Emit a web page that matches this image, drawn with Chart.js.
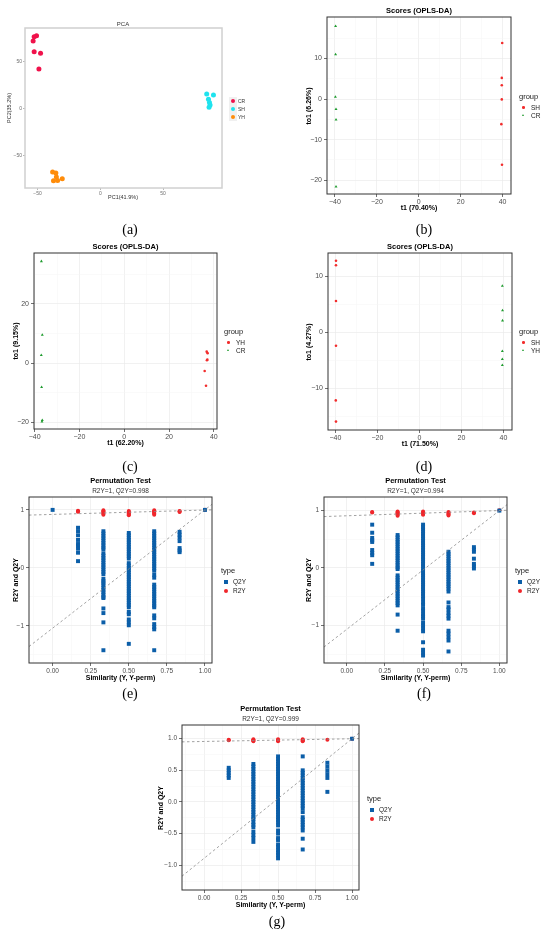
<!DOCTYPE html>
<html>
<head>
<meta charset="utf-8">
<script src="https://cdn.jsdelivr.net/npm/chart.js@4.4.1/dist/chart.umd.min.js"></script>
<style>
html, body { margin: 0; padding: 0; background: #fff; }
body { position: relative; width: 550px; height: 935px; overflow: hidden; }
canvas { position: absolute; }
</style>
</head>
<body>
<script>
// ---- data: (a) PCA scores ----
const pcaCR_x = [-53.5, -52.7, -50.8, -52.7, -47.6, -48.9];
const pcaCR_y = [71.6, 76.2, 77.3, 60.3, 58.5, 41.8];
const pcaSH_x = [84.8, 90.2, 86.2, 87.0, 87.5, 86.7];
const pcaSH_y = [15.2, 14.2, 9.6, 6.0, 3.5, 1.1];
const pcaYH_x = [-38.0, -35.4, -37.3, -34.0, -35.0, -30.3];
const pcaYH_y = [-68.0, -69.0, -77.3, -77.0, -73.4, -75.2];

// ---- data: (b) OPLS-DA SH vs CR ----
const bSH_t1 = [39.8, 39.6, 39.6, 39.6, 39.4, 39.7];
const bSH_to1 = [13.8, 5.2, 3.4, -0.1, -6.2, -16.2];
const bCR_t1 = [-39.7, -39.7, -39.8, -39.5, -39.5, -39.5];
const bCR_to1 = [17.95, 11.0, 0.5, -2.5, -5.1, -21.6];

// ---- data: (c) OPLS-DA YH vs CR ----
const cYH_t1 = [36.8, 37.2, 37.1, 36.9, 35.9, 36.5];
const cYH_to1 = [3.9, 3.4, 1.2, 1.0, -2.6, -7.6];
const cCR_t1 = [-37.0, -36.6, -37.05, -36.9, -36.6, -36.75];
const cCR_to1 = [34.4, 9.55, 2.7, -8.1, -19.2, -19.7];

// ---- data: (d) OPLS-DA SH vs YH ----
const dSH_t1 = [-39.7, -39.7, -39.7, -39.7, -39.8, -39.7];
const dSH_to1 = [12.8, 12.0, 5.6, -2.4, -12.2, -16.0];
const dYH_t1 = [39.5, 39.6, 39.6, 39.5, 39.5, 39.5];
const dYH_to1 = [8.3, 3.9, 2.1, -3.4, -4.8, -5.9];

// ---- data: permutation tests, one list per similarity level ----
const simLevels = [0, 0.1667, 0.3333, 0.5, 0.6667, 0.8333, 1];

const eQ2Y = [
  [0.998],
  [0.69, 0.63, 0.56, 0.48, 0.41, 0.38, 0.33, 0.26, 0.115],
  [0.63, 0.59, 0.55, 0.51, 0.47, 0.43, 0.39, 0.35, 0.32, 0.25, 0.21, 0.17, 0.13, 0.09, 0.05, 0.01, -0.03, -0.07, -0.11,
   -0.19, -0.23, -0.26, -0.30, -0.34, -0.38, -0.42, -0.46, -0.50, -0.52, -0.70, -0.78, -0.94, -1.42],
  [0.60, 0.56, 0.52, 0.48, 0.44, 0.40, 0.36, 0.32, 0.28, 0.24, 0.20, 0.16, 0.08, 0.04, 0.00, -0.04, -0.08, -0.12, -0.16,
   -0.20, -0.24, -0.28, -0.32, -0.36, -0.40, -0.44, -0.48, -0.52, -0.56, -0.60, -0.64, -0.68, -0.76, -0.80, -0.89, -0.94, -0.99, -1.31],
  [0.63, 0.59, 0.55, 0.51, 0.47, 0.43, 0.39, 0.35, 0.31, 0.27, 0.23, 0.19, 0.15, 0.11, 0.07, 0.03, -0.01, -0.05, -0.12, -0.17,
   -0.29, -0.33, -0.37, -0.41, -0.45, -0.49, -0.53, -0.57, -0.61, -0.65, -0.68, -0.82, -0.87, -0.97, -1.02, -1.06, -1.42],
  [0.62, 0.57, 0.52, 0.46, 0.34, 0.30, 0.27],
  [0.998]
];
const eR2Y = [
  [],
  [0.985, 0.975, 0.965],
  [0.99, 0.975, 0.96, 0.945, 0.93, 0.915],
  [0.98, 0.965, 0.95, 0.935, 0.92, 0.905],
  [0.99, 0.975, 0.96, 0.945, 0.93, 0.915],
  [0.98, 0.97, 0.96],
  [1]
];
const eR2YFit = [0.92, 0.075];   // intercept, slope
const eQ2YFit = [-1.04, 2.04];

const fQ2Y = [
  [],
  [0.75, 0.61, 0.52, 0.48, 0.45, 0.31, 0.26, 0.22, 0.07],
  [0.57, 0.53, 0.49, 0.45, 0.41, 0.37, 0.33, 0.29, 0.25, 0.21, 0.17, 0.13, 0.09, 0.05, 0.01, -0.02,
   -0.13, -0.17, -0.21, -0.25, -0.29, -0.33, -0.37, -0.41, -0.45, -0.49, -0.53, -0.57, -0.61, -0.65, -0.81, -1.09],
  [0.75, 0.71, 0.67, 0.63, 0.59, 0.55, 0.51, 0.47, 0.43, 0.39, 0.35, 0.31, 0.27, 0.23, 0.19, 0.15, 0.11, 0.07, 0.03,
   -0.01, -0.05, -0.09, -0.13, -0.17, -0.21, -0.25, -0.29, -0.33, -0.37, -0.41, -0.45, -0.49, -0.54, -0.60, -0.64,
   -0.70, -0.74, -0.80, -0.84, -0.88, -0.95, -1.00, -1.05, -1.10, -1.29, -1.42, -1.47, -1.52],
  [0.28, 0.24, 0.20, 0.16, 0.12, 0.08, 0.04, 0.00, -0.04, -0.08, -0.12, -0.16, -0.20, -0.24, -0.28, -0.32, -0.36,
   -0.41, -0.60, -0.68, -0.72, -0.78, -0.83, -0.88, -1.09, -1.14, -1.20, -1.26, -1.45],
  [0.36, 0.32, 0.28, 0.16, 0.07, 0.03, -0.01],
  [0.994]
];
const fR2Y = [
  [],
  [0.97, 0.96],
  [0.98, 0.965, 0.95, 0.935, 0.92, 0.905],
  [0.98, 0.965, 0.95, 0.935, 0.92],
  [0.97, 0.955, 0.94, 0.925, 0.91],
  [0.96, 0.95],
  [1]
];
const fR2YFit = [0.904, 0.091];
const fQ2YFit = [-1.066, 2.06];

const gQ2Y = [
  [],
  [0.54, 0.50, 0.46, 0.42, 0.38],
  [0.60, 0.56, 0.52, 0.48, 0.44, 0.40, 0.36, 0.32, 0.28, 0.24, 0.20, 0.16, 0.12, 0.08, 0.04, 0.00, -0.04, -0.08,
   -0.12, -0.16, -0.20, -0.24, -0.27, -0.32, -0.36, -0.40, -0.47, -0.52, -0.57, -0.63],
  [0.72, 0.68, 0.64, 0.60, 0.56, 0.52, 0.48, 0.44, 0.40, 0.36, 0.32, 0.28, 0.24, 0.20, 0.16, 0.12, 0.08, 0.04, 0.00,
   -0.04, -0.08, -0.12, -0.16, -0.20, -0.24, -0.28, -0.32, -0.37, -0.45, -0.50, -0.57, -0.60, -0.67, -0.71, -0.76,
   -0.80, -0.84, -0.89],
  [0.72, 0.50, 0.46, 0.42, 0.38, 0.34, 0.30, 0.26, 0.22, 0.18, 0.14, 0.10, 0.06, 0.02, -0.02, -0.06, -0.10, -0.16,
   -0.24, -0.28, -0.32, -0.36, -0.40, -0.45, -0.58, -0.75],
  [0.62, 0.56, 0.50, 0.44, 0.38, 0.16],
  [0.999]
];
const gR2Y = [
  [],
  [0.985, 0.975],
  [0.99, 0.98, 0.97, 0.96],
  [0.99, 0.98, 0.97, 0.96],
  [0.99, 0.98, 0.97, 0.96],
  [0.985],
  [1]
];
const gR2YFit = [0.956, 0.043];
const gQ2YFit = [-0.89, 1.89];

// ---- tick values ----
const pcaTicks = [-50, 0, 50];
const t1Ticks = [-40, -20, 0, 20, 40];
const t1Minor = [-30, -10, 10, 30];
const bTo1Ticks = [-20, -10, 0, 10];
const bTo1Minor = [-15, -5, 5, 15];
const cTo1Ticks = [-20, 0, 20];
const cTo1Minor = [-10, 10, 30];
const dTo1Ticks = [-10, 0, 10];
const dTo1Minor = [-15, -5, 5];
const simTicks = [0, 0.25, 0.5, 0.75, 1];
const simMinor = [-0.125, 0.125, 0.375, 0.625, 0.875];
const permTicks = [-1, 0, 1];
const permMinor = [-1.5, -0.5, 0.5];
const gPermTicks = [-1, -0.5, 0, 0.5, 1];
const gPermMinor = [-1.25, -0.75, -0.25, 0.25, 0.75];

// ---- helpers ----
const FONT = '"Liberation Sans", Arial, Helvetica, sans-serif';
const YW = 30, XH = 16, PAD = 8;

const minus = v => String(v).replace('-', '\u2212');
const dec2 = v => v.toFixed(2);
const dec1 = v => v.toFixed(1).replace('-', '\u2212');

const pts = (xs, ys) => xs.map((x, i) => ({ x, y: ys[i] }));
const cols = arr => arr.flatMap((vals, i) => vals.map(y => ({ x: simLevels[i], y })));
const fitLine = (fit, xr) => xr.map(x => ({ x, y: fit[0] + fit[1] * x }));

// panel border drawn over the data
const framePlugin = {
  id: 'frame',
  afterDatasetsDraw(chart, args, opts) {
    const { ctx, chartArea: a } = chart;
    ctx.save();
    ctx.strokeStyle = opts.color;
    ctx.lineWidth = opts.width;
    ctx.strokeRect(a.left, a.top, a.right - a.left, a.bottom - a.top);
    ctx.restore();
  }
};

function axis(dir, range, major, minor, fmt, st) {
  return {
    type: 'linear',
    min: range[0],
    max: range[1],
    afterBuildTicks: s => {
      s.ticks = major.map(v => ({ value: v }))
        .concat(minor.map(v => ({ value: v, minor: true })))
        .sort((a, b) => a.value - b.value);
    },
    afterFit: s => {
      if (dir === 'x') s.height = XH; else s.width = YW;
    },
    ticks: {
      autoSkip: false, maxRotation: 0, minRotation: 0,
      padding: dir === 'x' ? st.padX : st.padY,
      color: st.tickText,
      font: { family: FONT, size: st.tickSize },
      callback: (v, i, t) => t[i].minor ? '' : fmt(v)
    },
    grid: {
      drawTicks: true,
      tickLength: st.tickLen,
      color: c => !st.grid ? 'rgba(0,0,0,0)' : (c.tick && c.tick.minor ? '#F4F4F4' : '#EBEBEB'),
      lineWidth: c => c.tick && c.tick.minor ? 0.5 : 0.7,
      tickColor: c => c.tick && c.tick.minor ? 'rgba(0,0,0,0)' : st.tickMark,
      tickWidth: 0.7
    },
    border: { display: false }
  };
}

function makeChart(p) {
  const W = YW + (p.R - p.L) + PAD, H = PAD + (p.B - p.T) + XH;
  const cv = document.createElement('canvas');
  cv.width = W;
  cv.height = H;
  cv.style.left = (p.L - YW) + 'px';
  cv.style.top = (p.T - PAD) + 'px';
  cv.style.width = W + 'px';
  cv.style.height = H + 'px';
  document.body.appendChild(cv);
  return new Chart(cv, {
    type: 'scatter',
    data: { datasets: p.datasets },
    options: {
      responsive: false,
      animation: false,
      events: [],
      layout: { padding: { top: PAD, right: PAD, left: 0, bottom: 0 } },
      plugins: {
        legend: { display: false },
        tooltip: { enabled: false },
        frame: { color: p.style.frame, width: p.style.frameW }
      },
      scales: {
        x: axis('x', p.xr, p.xt, p.xm, p.xf, p.style),
        y: axis('y', p.yr, p.yt, p.ym, p.yf, p.style)
      }
    },
    plugins: [framePlugin]
  });
}

function dots(data, color, style, r) {
  return {
    data, pointStyle: style, pointRadius: r,
    pointBackgroundColor: color, backgroundColor: color,
    pointBorderWidth: 0, borderWidth: 0
  };
}
function dashed(data) {
  return {
    data, showLine: true, pointRadius: 0,
    borderColor: '#8A8A8A', borderWidth: 0.8, borderDash: [2.5, 2.5]
  };
}

function text(str, x, y, o = {}) {
  const d = document.createElement('div');
  d.textContent = str;
  const tx = o.left ? '0' : '-50%';
  d.style.cssText = 'position:absolute;white-space:nowrap;line-height:1;' +
    `left:${x}px;top:${y}px;font-size:${o.size || 7}px;` +
    `font-weight:${o.bold ? 'bold' : 'normal'};color:${o.color || '#000'};` +
    `font-family:${o.family || FONT};` +
    `transform:translate(${tx},-50%)${o.rot ? ' rotate(-90deg)' : ''};`;
  document.body.appendChild(d);
}

function mark(kind, x, y, color, s) {
  const d = document.createElement('div');
  let css = `position:absolute;left:${x - s / 2}px;top:${y - s / 2}px;`;
  if (kind === 'tri') {
    css += `width:0;height:0;border-left:${s / 2}px solid transparent;border-right:${s / 2}px solid transparent;` +
      `border-bottom:${s * 0.87}px solid ${color};`;
  } else {
    css += `width:${s}px;height:${s}px;background:${color};` + (kind === 'circle' ? 'border-radius:50%;' : '');
  }
  d.style.cssText = css;
  document.body.appendChild(d);
}

const panelLabel = (str, x, y) => text(str, x, y, { size: 14, family: '"Liberation Serif", "Times New Roman", serif' });

const styleOld = { grid: false, frame: '#D0D0D0', frameW: 1.5, tickText: '#6E6E6E', tickMark: '#9A9A9A', tickSize: 5, tickLen: 2, padX: 1, padY: 1 };
const styleBW = { grid: true, frame: '#333333', frameW: 1, tickText: '#4D4D4D', tickMark: '#333333', tickSize: 7, tickLen: 3, padX: 1, padY: 2 };
const stylePerm = Object.assign({}, styleBW, { tickSize: 6.5 });

// ---- colours ----
const colCR = '#F0124B', colSH = '#1FE3EE', colYH = '#FF8C0A';
const oplsRed = '#F22D2D', oplsGreen = '#1E9B2E';
const permBlue = '#0B5EA8', permRed = '#F0262B';

// ---- (a) PCA ----
makeChart({
  L: 25, T: 28, R: 222, B: 188, style: styleOld,
  xr: [-60, 97], xt: pcaTicks, xm: [], xf: minus,
  yr: [-85, 85.5], yt: pcaTicks, ym: [], yf: minus,
  datasets: [
    dots(pts(pcaYH_x, pcaYH_y), colYH, 'circle', 2.5),
    dots(pts(pcaSH_x, pcaSH_y), colSH, 'circle', 2.5),
    dots(pts(pcaCR_x, pcaCR_y), colCR, 'circle', 2.5)
  ]
});
text('PCA', 123, 24, { size: 6, color: '#333' });
text('PC1(41.9%)', 123, 197.5, { size: 5.5, color: '#333' });
text('PC2(35.2%)', 10, 108, { size: 5.5, color: '#333', rot: true });
[['CR', colCR, 101], ['SH', colSH, 109], ['YH', colYH, 117]].forEach(([n, c, y]) => {
  mark('square', 233, y, '#F0F0F0', 7.5);
  mark('circle', 233, y, c, 4.6);
  text(n, 238, y, { size: 5, color: '#333', left: true });
});
panelLabel('(a)', 130, 230);

// ---- OPLS-DA panels ----
function oplsPanel(p, title, xTitle, yTitle, yTitleX, legend) {
  makeChart(p);
  const cx = (p.L + p.R) / 2, cy = (p.T + p.B) / 2;
  text(title, cx, p.T - 6, { size: 7.5, bold: true });
  text(xTitle, cx, p.B + 13, { size: 7, bold: true });
  text(yTitle, yTitleX, cy, { size: 7, bold: true, rot: true });
  text('group', legend.x, legend.y, { size: 7.5, left: true, color: '#1A1A1A' });
  legend.items.forEach(([n, c, kind], i) => {
    const y = legend.y + 10.5 + i * 8.5;
    mark(kind, legend.x + 4.5, y, c, kind === 'tri' ? 3.2 : 2.6);
    text(n, legend.x + 12, y, { size: 6.5, left: true, color: '#1A1A1A' });
  });
}

oplsPanel({
  L: 327, T: 17, R: 511, B: 194, style: styleBW,
  xr: [-43.8, 44.0], xt: t1Ticks, xm: t1Minor, xf: minus,
  yr: [-23.4, 20.2], yt: bTo1Ticks, ym: bTo1Minor, yf: minus,
  datasets: [
    dots(pts(bSH_t1, bSH_to1), oplsRed, 'circle', 1.3),
    dots(pts(bCR_t1, bCR_to1), oplsGreen, 'triangle', 1.7)
  ]
}, 'Scores (OPLS-DA)', 't1 (70.40%)', 'to1 (6.26%)', 308,
  { x: 519, y: 97, items: [['SH', oplsRed, 'circle'], ['CR', oplsGreen, 'tri']] });
panelLabel('(b)', 424, 230);

oplsPanel({
  L: 34, T: 253, R: 217, B: 429, style: styleBW,
  xr: [-40.3, 41.4], xt: t1Ticks, xm: t1Minor, xf: minus,
  yr: [-22.2, 37.2], yt: cTo1Ticks, ym: cTo1Minor, yf: minus,
  datasets: [
    dots(pts(cYH_t1, cYH_to1), oplsRed, 'circle', 1.3),
    dots(pts(cCR_t1, cCR_to1), oplsGreen, 'triangle', 1.7)
  ]
}, 'Scores (OPLS-DA)', 't1 (62.20%)', 'to1 (9.15%)', 15,
  { x: 224, y: 332, items: [['YH', oplsRed, 'circle'], ['CR', oplsGreen, 'tri']] });
panelLabel('(c)', 130, 467);

oplsPanel({
  L: 328, T: 253, R: 512, B: 430, style: styleBW,
  xr: [-43.5, 44.1], xt: t1Ticks, xm: t1Minor, xf: minus,
  yr: [-17.5, 14.2], yt: dTo1Ticks, ym: dTo1Minor, yf: minus,
  datasets: [
    dots(pts(dSH_t1, dSH_to1), oplsRed, 'circle', 1.3),
    dots(pts(dYH_t1, dYH_to1), oplsGreen, 'triangle', 1.7)
  ]
}, 'Scores (OPLS-DA)', 't1 (71.50%)', 'to1 (4.27%)', 308,
  { x: 519, y: 332, items: [['SH', oplsRed, 'circle'], ['YH', oplsGreen, 'tri']] });
panelLabel('(d)', 424, 467);

// ---- permutation test panels ----
function permPanel(p, q2, r2, q2Fit, r2Fit, sub, yTitleX, legendX) {
  p.datasets = [
    dashed(fitLine(q2Fit, p.xr)),
    dashed(fitLine(r2Fit, p.xr)),
    dots(cols(q2), permBlue, 'rect', 2.8),
    dots(cols(r2), permRed, 'circle', 2)
  ];
  makeChart(p);
  const cx = (p.L + p.R) / 2, cy = (p.T + p.B) / 2;
  text('Permutation Test', cx, p.T - 16, { size: 7.5, bold: true });
  text(sub, cx, p.T - 6.5, { size: 6.5, color: '#333' });
  text('Similarity (Y, Y-perm)', cx, p.B + 14, { size: 7, bold: true });
  text('R2Y and Q2Y', yTitleX, cy, { size: 7, bold: true, rot: true });
  const ly = p.T + 74;
  text('type', legendX, ly, { size: 7.5, left: true, color: '#1A1A1A' });
  mark('square', legendX + 4.5, ly + 11, permBlue, 4);
  text('Q2Y', legendX + 12, ly + 11, { size: 6.5, left: true, color: '#1A1A1A' });
  mark('circle', legendX + 4.5, ly + 19.5, permRed, 4);
  text('R2Y', legendX + 12, ly + 19.5, { size: 6.5, left: true, color: '#1A1A1A' });
}

permPanel({
  L: 29, T: 497, R: 212, B: 663, style: stylePerm,
  xr: [-0.155, 1.046], xt: simTicks, xm: simMinor, xf: dec2,
  yr: [-1.64, 1.22], yt: permTicks, ym: permMinor, yf: minus
}, eQ2Y, eR2Y, eQ2YFit, eR2YFit, 'R2Y=1, Q2Y=0.998', 15, 221);
panelLabel('(e)', 130, 694);

permPanel({
  L: 324, T: 497, R: 507, B: 663, style: stylePerm,
  xr: [-0.149, 1.05], xt: simTicks, xm: simMinor, xf: dec2,
  yr: [-1.65, 1.23], yt: permTicks, ym: permMinor, yf: minus
}, fQ2Y, fR2Y, fQ2YFit, fR2YFit, 'R2Y=1, Q2Y=0.994', 308, 515);
panelLabel('(f)', 424, 694);

permPanel({
  L: 182, T: 725, R: 359, B: 890, style: stylePerm,
  xr: [-0.149, 1.047], xt: simTicks, xm: simMinor, xf: dec2,
  yr: [-1.39, 1.216], yt: gPermTicks, ym: gPermMinor, yf: dec1
}, gQ2Y, gR2Y, gQ2YFit, gR2YFit, 'R2Y=1, Q2Y=0.999', 160, 367);
panelLabel('(g)', 277, 922);
</script>
</body>
</html>
